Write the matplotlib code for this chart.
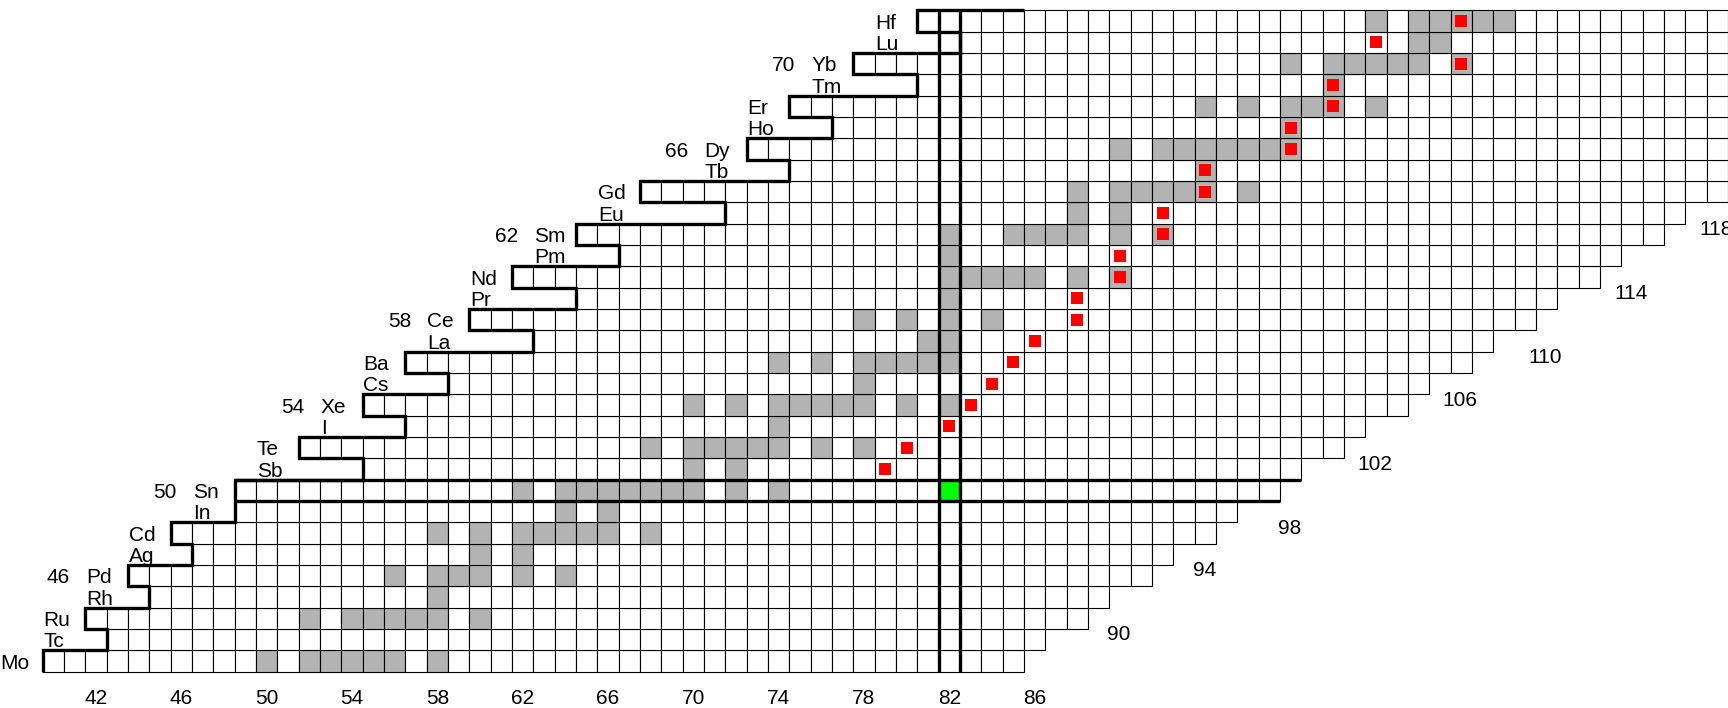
import matplotlib
matplotlib.use('Agg')
import matplotlib.pyplot as plt
from matplotlib.patches import Rectangle
from matplotlib.collections import PatchCollection

plt.rcParams['font.family'] = ['Liberation Sans', 'DejaVu Sans']

# one row per element, proton number Z
z_rows = list(range(42, 73))
symbols = ['Mo', 'Tc', 'Ru', 'Rh', 'Pd', 'Ag', 'Cd', 'In', 'Sn', 'Sb', 'Te',
           'I', 'Xe', 'Cs', 'Ba', 'La', 'Ce', 'Pr', 'Nd', 'Pm', 'Sm', 'Eu',
           'Gd', 'Tb', 'Dy', 'Ho', 'Er', 'Tm', 'Yb', 'Lu', 'Hf']
# first / last neutron number of each row
n_first = [40, 43, 42, 45, 44, 47, 46, 49, 49, 55, 52, 57, 55, 59, 57, 63,
           60, 65, 62, 67, 65, 72, 68, 75, 73, 77, 75, 81, 78, 83, 81]
n_last = [85, 86, 88, 89, 91, 92, 94, 95, 97, 98, 100, 101, 103, 104, 106,
          107, 109, 110, 112, 113, 115, 116, 118, 118, 118, 118, 118, 118,
          118, 118, 118]

# shaded cells, Z -> list of N
gray_cells = {
    42: [50, 52, 53, 54, 55, 56, 58],
    44: [52, 54, 55, 56, 57, 58, 60],
    45: [58],
    46: [56, 58, 59, 60, 62, 64],
    47: [60, 62],
    48: [58, 60, 62, 63, 64, 65, 66, 68],
    49: [64, 66],
    50: [62, 64, 65, 66, 67, 68, 69, 70, 72, 74],
    51: [70, 72],
    52: [68, 70, 71, 72, 73, 74, 76, 78],
    53: [74],
    54: [70, 72, 74, 75, 76, 77, 78, 80, 82],
    55: [78],
    56: [74, 76, 78, 79, 80, 81, 82],
    57: [81, 82],
    58: [78, 80, 82, 84],
    59: [82],
    60: [82, 83, 84, 85, 86, 88, 90],
    61: [82],
    62: [82, 85, 86, 87, 88, 90, 92],
    63: [88, 90],
    64: [88, 90, 91, 92, 93, 94, 96],
    65: [94],
    66: [90, 92, 93, 94, 95, 96, 97, 98],
    67: [98],
    68: [94, 96, 98, 99, 100, 102],
    69: [100],
    70: [98, 100, 101, 102, 103, 104, 106],
    71: [104, 105],
    72: [102, 104, 105, 106, 107, 108],
}

# red markers
red_z = [51, 52, 53, 54, 55, 56, 57, 58, 59, 60, 61, 62, 63, 64, 65, 66, 67,
         68, 69, 70, 71, 72]
red_n = [79, 80, 82, 83, 84, 85, 86, 88, 88, 90, 90, 92, 92, 94, 94, 98, 98,
         100, 100, 106, 102, 106]

# doubly magic cell
green_z, green_n = 50, 82
magic_n = 82
magic_z = 50

z_numbered = [46, 50, 54, 58, 62, 66, 70]
bottom_ticks = list(range(42, 87, 4))
diag_ticks = list(range(90, 119, 4))
top_edge_end = 86

fig = plt.figure(figsize=(17.28, 7.08), dpi=100)
ax = fig.add_axes([0, 0, 1, 1])
ax.set_xlim(38.0, 119.0)
ax.set_ylim(40.3, 73.49)
ax.axis('off')

# grid of cells
patches = []
colors = []
for i, z in enumerate(z_rows):
    for n in range(n_first[i], n_last[i] + 1):
        patches.append(Rectangle((n, z), 1, 1))
        if n in gray_cells.get(z, []):
            colors.append('#b3b3b3')
        elif z == green_z and n == green_n:
            colors.append('#00ff00')
        else:
            colors.append('white')
pc = PatchCollection(patches, facecolors=colors, edgecolors='black',
                     linewidths=0.8)
ax.add_collection(pc)

for z, n in zip(red_z, red_n):
    ax.add_patch(Rectangle((n + 0.22, z + 0.22), 0.56, 0.56,
                           facecolor='#ff0000', edgecolor='none', zorder=3))

thick = dict(color='black', lw=2.4, solid_joinstyle='miter',
             solid_capstyle='butt', zorder=4)

# left border staircase
xs, ys = [], []
for i, z in enumerate(z_rows):
    xs += [n_first[i], n_first[i]]
    ys += [z, z + 1]
xs.append(top_edge_end)
ys.append(z_rows[-1] + 1)
ax.plot(xs, ys, **thick)

# magic number lines
ax.plot([magic_n, magic_n], [z_rows[0], z_rows[-1] + 1], **thick)
ax.plot([magic_n + 1, magic_n + 1], [z_rows[0], z_rows[-1] + 1], **thick)
iz = z_rows.index(magic_z)
ax.plot([min(n_first[iz - 1], n_first[iz]), max(n_last[iz - 1], n_last[iz]) + 1],
        [magic_z, magic_z], **thick)
ax.plot([min(n_first[iz], n_first[iz + 1]), max(n_last[iz], n_last[iz + 1]) + 1],
        [magic_z + 1, magic_z + 1], **thick)

fs = 15
# element labels
for i, z in enumerate(z_rows):
    base = z if z % 2 == 0 else z + 1
    x0 = n_first[z_rows.index(base)] - 1.97
    ax.text(x0, z + 0.5, symbols[i], fontsize=fs, ha='left',
            va='center_baseline')
    if z in z_numbered:
        ax.text(x0 - 0.75, z + 0.5, str(z), fontsize=fs, ha='right',
                va='center_baseline')

# neutron numbers
for n in bottom_ticks:
    ax.text(n + 0.5, 40.83, str(n), fontsize=fs, ha='center',
            va='center_baseline')
for n in diag_ticks:
    row = round(43 + (n - 90) * 2 / 3)
    ax.text(n + 0.45, row + 0.83, str(n), fontsize=fs, ha='center',
            va='center_baseline', clip_on=False)

plt.savefig('out.png', dpi=100)
plt.close()
